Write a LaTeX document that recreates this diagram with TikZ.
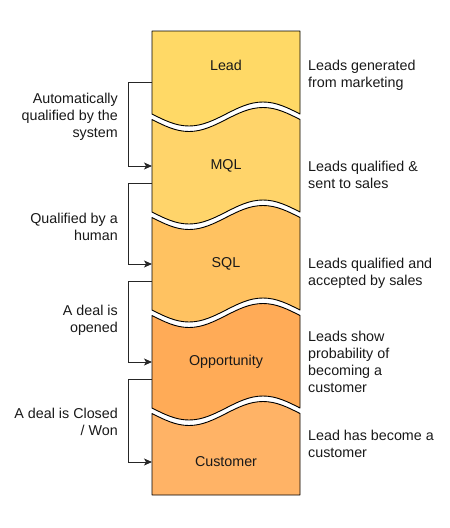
\documentclass[tikz,border=0pt]{standalone}
\usepackage{fontspec}
\setmainfont{Liberation Sans}
\usetikzlibrary{arrows.meta}
\definecolor{leadfill}{HTML}{FFD966}
\definecolor{mqlfill}{HTML}{FFD46A}
\definecolor{sqlfill}{HTML}{FFC261}
\definecolor{oppfill}{HTML}{FFAB57}
\definecolor{custfill}{HTML}{FFB366}
\begin{document}
\begin{tikzpicture}[x=1pt,y=-1pt,>={Stealth[length=8pt,width=7pt,inset=2pt]},
    stage/.style={draw=black,line width=0.9pt,line join=round},
    flow/.style={->,line width=0.9pt,draw=black!85},
    every node/.style={font=\fontsize{14.3}{16.8}\selectfont,text=black!90,inner sep=0pt},
    note/.style={align=left,anchor=west},
    cond/.style={align=right,anchor=east}]
    \useasboundingbox (0,0) rectangle (450,528);
    % stages: name / top / top wave / bottom / bottom wave / fill / label y / text
    \foreach \nm/\tp/\ta/\bt/\ba/\col/\ly/\txt in {
        lead/31/0/114/12/leadfill/65/Lead,
        mql/119.5/12/212/12/mqlfill/166/MQL,
        sql/217.5/12/310/12/sqlfill/264/SQL,
        opp/315.5/12/408/12/oppfill/362/Opportunity,
        cust/413.5/12/495/0/custfill/462/Customer}{
        \draw[stage,fill=\col] (152,\tp) sin (189,\tp+\ta) cos (226,\tp) sin (263,\tp-\ta) cos (300,\tp)
            -- (300,\bt) sin (263,\bt-\ba) cos (226,\bt) sin (189,\bt+\ba) cos (152,\bt) -- cycle;
        \node (\nm) at (226,\ly) {\txt};
        \coordinate (\nm-in) at (152,\ly);
        \coordinate (\nm-out) at (152,\ly+17);
    }
    % transitions
    \foreach \a/\b in {lead/mql, mql/sql, sql/opp, opp/cust}
        \draw[flow] (\a-out) -- ++(-24,0) |- (\b-in);
    \node[cond] (auto) at (118,117) {Automatically\\qualified by the\\system};
    \node[cond] (human) at (118,227) {Qualified by a\\human};
    \node[cond] (opened) at (118,320) {A deal is\\opened};
    \node[cond] (won) at (118,422) {A deal is Closed\\/ Won};
    % descriptions
    \node[note] (lead-note) at (308,75) {Leads generated\\from marketing};
    \node[note] (mql-note) at (308,175) {Leads qualified \&\\sent to sales};
    \node[note] (sql-note) at (308,273) {Leads qualified and\\accepted by sales};
    \node[note] (opp-note) at (308,362) {Leads show\\probability of\\becoming a\\customer};
    \node[note] (cust-note) at (308,444) {Lead has become a\\customer};
\end{tikzpicture}
\end{document}
